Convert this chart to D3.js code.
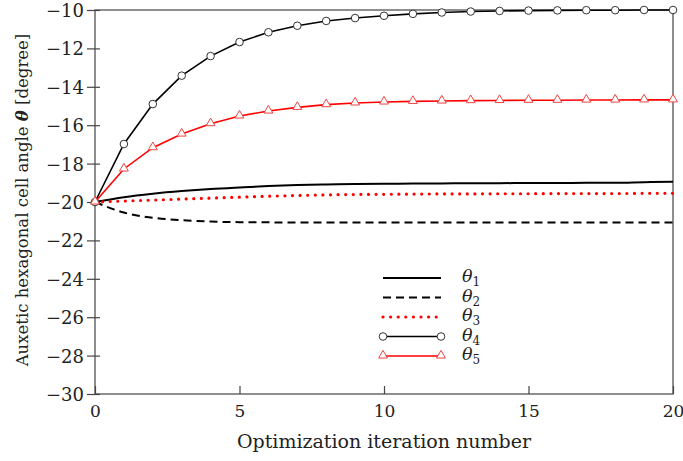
<!DOCTYPE html>
<html>
<head>
<meta charset="utf-8">
<script src="https://cdn.jsdelivr.net/npm/d3@7"></script>
<style>
  body { margin: 0; background: #fff; }
  svg text { font-family: "DejaVu Serif", serif; fill: #222; }
</style>
</head>
<body>
<div id="chart"></div>
<script>
var svgWidth = 683;
var svgHeight = 461;

var margin = { top: 10, right: 10, bottom: 67, left: 95 };
var width = svgWidth - margin.left - margin.right;
var height = svgHeight - margin.top - margin.bottom;

// iteration numbers
var iterations = d3.range(0, 21);

// series values
var theta1 = [-20, -19.75, -19.57, -19.43, -19.32, -19.24, -19.17, -19.12, -19.09, -19.06, -19.05,
  -19.04, -19.03, -19.02, -19.02, -19.01, -19.01, -19.0, -19.0, -18.97, -18.95];
var theta2 = [-20, -20.55, -20.82, -20.95, -21.02, -21.05, -21.06, -21.07, -21.07, -21.07, -21.07,
  -21.07, -21.07, -21.07, -21.07, -21.07, -21.07, -21.07, -21.07, -21.07, -21.07];
var theta3 = [-20, -19.95, -19.9, -19.85, -19.8, -19.75, -19.7, -19.66, -19.63, -19.61, -19.6,
  -19.59, -19.58, -19.58, -19.57, -19.57, -19.56, -19.56, -19.56, -19.55, -19.55];
var theta4 = [-20, -16.98, -14.9, -13.42, -12.4, -11.67, -11.16, -10.82, -10.57, -10.42, -10.3,
  -10.2, -10.13, -10.08, -10.05, -10.03, -10.02, -10.01, -10.01, -10.0, -10.0];
var theta5 = [-20, -18.28, -17.17, -16.46, -15.92, -15.52, -15.26, -15.07, -14.93, -14.84, -14.79,
  -14.76, -14.74, -14.72, -14.71, -14.7, -14.7, -14.69, -14.69, -14.68, -14.68];

var xTicks = [0, 5, 10, 15, 20];
var yTicks = [-30, -28, -26, -24, -22, -20, -18, -16, -14, -12, -10];
var legendLabels = ["1", "2", "3", "4", "5"];

var series = [
  { values: theta1, color: "#000", dash: null, width: 2, marker: null },
  { values: theta2, color: "#000", dash: "8,5", width: 2, marker: null },
  { values: theta3, color: "#f00", dash: "0,7.6", width: 3.2, marker: null, round: true },
  { values: theta4, color: "#000", dash: null, width: 1.6, marker: "circle" },
  { values: theta5, color: "#f00", dash: null, width: 1.6, marker: "triangle" }
];

var svg = d3.select("#chart")
  .append("svg")
  .attr("width", svgWidth)
  .attr("height", svgHeight);

var chartGroup = svg.append("g")
  .attr("transform", `translate(${margin.left}, ${margin.top})`);

var xScale = d3.scaleLinear().domain([0, 20]).range([0, width]);
var yScale = d3.scaleLinear().domain([-30, -10]).range([height, 0]);

// frame
chartGroup.append("rect")
  .attr("width", width)
  .attr("height", height)
  .attr("fill", "none")
  .attr("stroke", "#444")
  .attr("stroke-width", 1.2);

// axes
var leftAxis = d3.axisLeft(yScale)
  .tickValues(yTicks)
  .tickSizeInner(8)
  .tickSizeOuter(0)
  .tickFormat(d => d3.format("d")(d).replace("-", "\u2212"));

var bottomAxis = d3.axisBottom(xScale)
  .tickValues(xTicks)
  .tickSizeInner(-8)
  .tickSizeOuter(0);

var yAxisG = chartGroup.append("g").call(leftAxis).attr("font-family", null);
yAxisG.select(".domain").remove();
yAxisG.selectAll(".tick line").attr("x2", 5).attr("x1", -8).attr("stroke", "#444").attr("stroke-width", 1.2);
yAxisG.selectAll(".tick text").attr("x", -11).attr("dy", "0.36em").attr("font-size", "18px");

var xAxisG = chartGroup.append("g")
  .attr("transform", `translate(0, ${height})`)
  .call(bottomAxis)
  .attr("font-family", null);
xAxisG.select(".domain").remove();
xAxisG.selectAll(".tick line").attr("stroke", "#444").attr("stroke-width", 1.2);
xAxisG.selectAll(".tick text").attr("y", 11).attr("font-size", "17px");

// axis titles
chartGroup.append("text")
  .attr("x", width / 2)
  .attr("y", height + 54)
  .attr("text-anchor", "middle")
  .attr("font-size", "19px")
  .text("Optimization iteration number");

var yTitle = chartGroup.append("text")
  .attr("transform", `translate(${-67}, ${height / 2 - 2}) rotate(-90)`)
  .attr("text-anchor", "middle")
  .attr("font-size", "16.5px");
yTitle.append("tspan").text("Auxetic hexagonal cell angle ");
yTitle.append("tspan").attr("font-style", "italic").attr("font-weight", "bold").text("\u03b8");
yTitle.append("tspan").text(" [degree]");

// lines
var line = d3.line()
  .x((d, i) => xScale(iterations[i]))
  .y(d => yScale(d));

var smooth = d3.line()
  .x((d, i) => xScale(iterations[i]))
  .y(d => yScale(d))
  .curve(d3.curveMonotoneX);

series.forEach(function(s) {
  chartGroup.append("path")
    .datum(s.values)
    .attr("d", s.marker ? line : smooth)
    .attr("fill", "none")
    .attr("stroke", s.color)
    .attr("stroke-width", s.width)
    .attr("stroke-dasharray", s.dash)
    .attr("stroke-linecap", s.round ? "round" : "butt");
});

var triangle = d3.symbol().type(d3.symbolTriangle).size(34);

function drawMarker(g, type, x, y) {
  if (type === "circle") {
    g.append("circle")
      .attr("cx", x).attr("cy", y).attr("r", 3.8)
      .attr("fill", "#fff").attr("stroke", "#333").attr("stroke-width", 1);
  } else if (type === "triangle") {
    g.append("path")
      .attr("d", triangle())
      .attr("transform", `translate(${x}, ${y - 0.5})`)
      .attr("fill", "#fff").attr("stroke", "#e44").attr("stroke-width", 1);
  }
}

series.forEach(function(s) {
  if (!s.marker) return;
  s.values.forEach(function(v, i) {
    drawMarker(chartGroup, s.marker, xScale(iterations[i]), yScale(v));
  });
});

// legend
var legend = chartGroup.append("g")
  .attr("transform", `translate(${383 - margin.left}, ${278 - margin.top})`);

series.forEach(function(s, i) {
  var row = legend.append("g").attr("transform", `translate(0, ${i * 19.5})`);
  row.append("line")
    .attr("x1", 0).attr("x2", 58)
    .attr("y1", 0).attr("y2", 0)
    .attr("stroke", s.color)
    .attr("stroke-width", s.width)
    .attr("stroke-dasharray", s.dash)
    .attr("stroke-linecap", s.round ? "round" : "butt");
  if (s.marker) {
    drawMarker(row, s.marker, 0, 0);
    drawMarker(row, s.marker, 58, 0);
  }
  var t = row.append("text")
    .attr("x", 79)
    .attr("y", 4)
    .attr("font-size", "17.5px");
  t.append("tspan").attr("font-style", "italic").text("\u03b8");
  t.append("tspan").attr("font-size", "12px").attr("dy", 4).text(legendLabels[i]);
});
</script>
</body>
</html>
